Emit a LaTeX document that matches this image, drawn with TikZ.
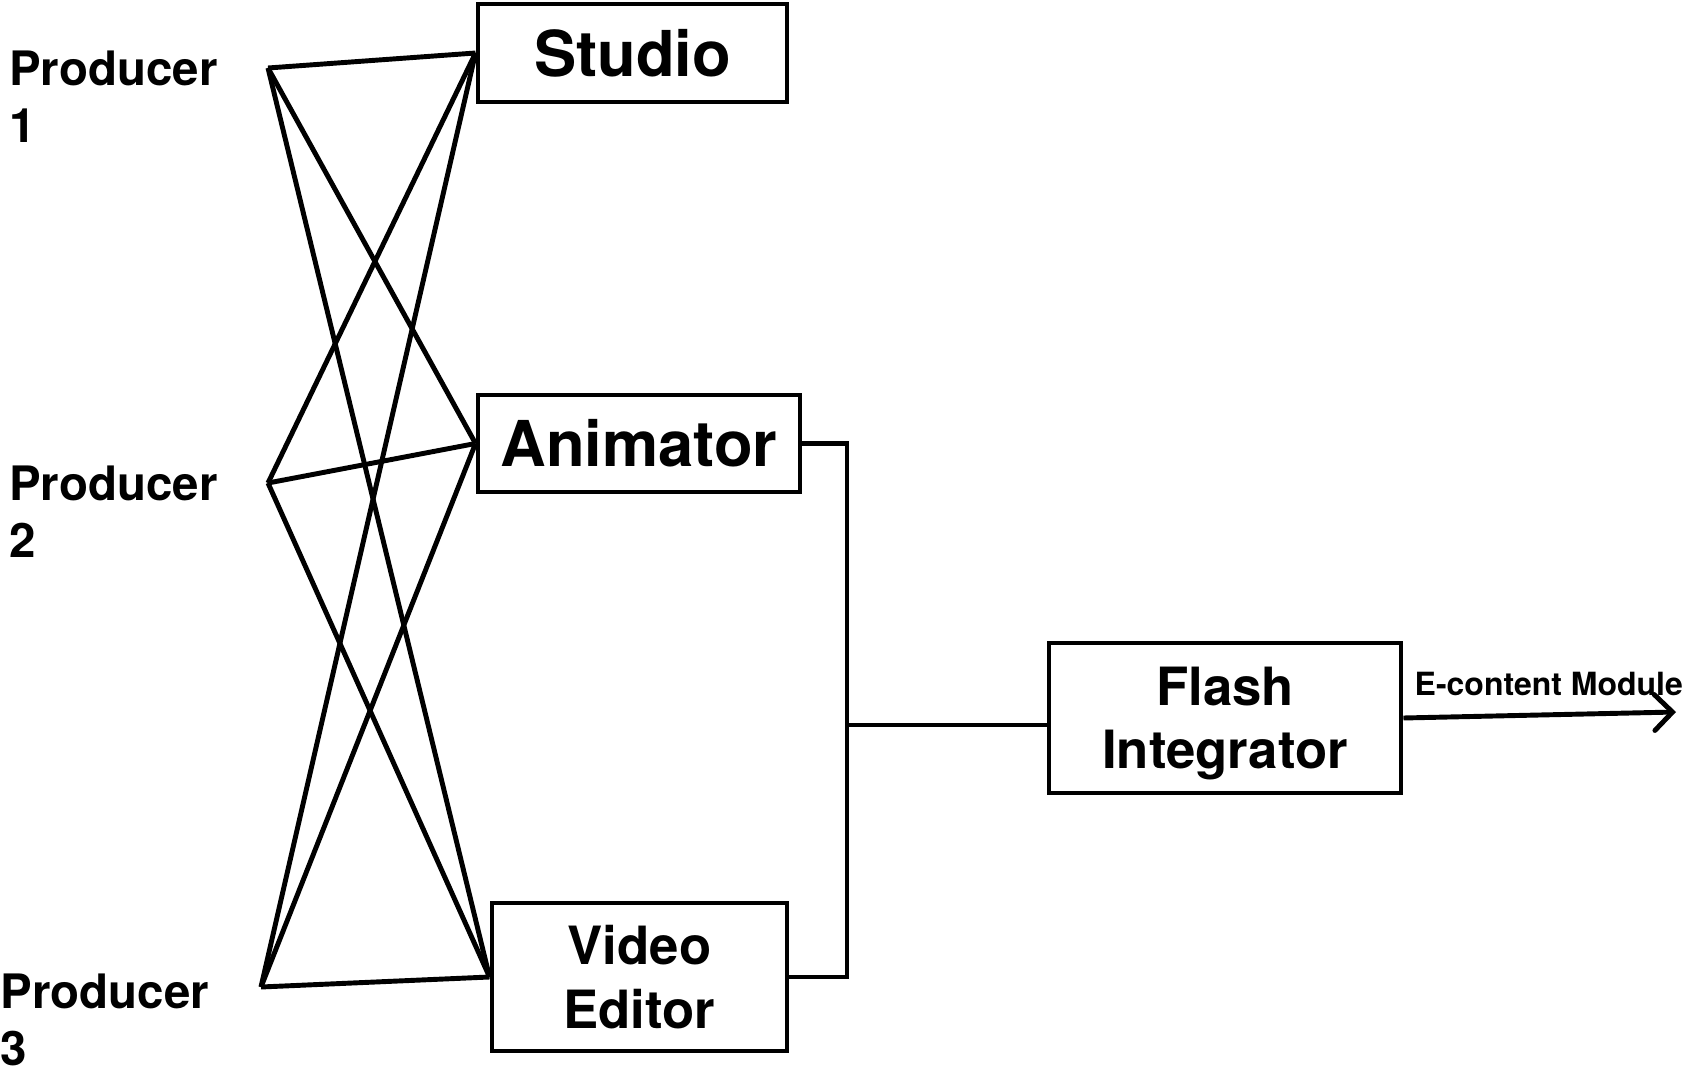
\documentclass[tikz,border=0pt]{standalone}
\usepackage{fontspec}
\setmainfont{TeX Gyre Heros}
\usetikzlibrary{arrows.meta, positioning}
\tikzstyle{role} = [draw, line width=1.4pt, rectangle, inner sep=0pt, align=center, font=\bfseries\fontsize{15}{18}\selectfont]
\tikzstyle{bigrole} = [role, font=\bfseries\fontsize{18}{21}\selectfont]
\tikzstyle{producer} = [anchor=north west, inner sep=0pt, align=left, font=\bfseries\fontsize{13.5}{16.2}\selectfont]
\tikzstyle{wire} = [line width=1.4pt]

\begin{document}
\begin{tikzpicture}[line join=miter]
	\useasboundingbox (0,0) rectangle (16.82,10.67);
	% producers on the left
	\node[producer] (prod1) at (0.086,10.17) {Producer\\1};
	\node[producer] (prod2) at (0.086,6.02) {Producer\\2};
	\node[producer] (prod3) at (0,0.94) {Producer\\3};
	\coordinate (p1) at (2.68,9.99);
	\coordinate (p2) at (2.68,5.84);
	\coordinate (p3) at (2.61,0.80);
	% the three roles
	\node[bigrole, minimum width=3.09cm, minimum height=0.98cm] (studio) at (6.325,10.14) {Studio};
	\node[bigrole, minimum width=3.22cm, minimum height=0.97cm] (animator) at (6.39,6.235) {Animator};
	\node[role, minimum width=2.95cm, minimum height=1.48cm] (video) at (6.395,0.90) {Video\\Editor};
	\node[role, minimum width=3.52cm, minimum height=1.50cm, text depth=0pt] (flash) at (12.25,3.49) {Flash\\Integrator};
	% every producer feeds every role
	\foreach \p in {p1,p2,p3}
		\foreach \b in {studio,animator,video}
			\draw[wire] (\p) -- (\b.west);
	% bus to the integrator
	\coordinate (bus) at (8.47,3.42);
	\draw[wire] (animator.east) -- (animator.east -| bus) -- (video.east -| bus) -- (video.east);
	\draw[wire] (bus) -- (bus -| flash.west);
	\coordinate (out) at (16.76,3.55);
	\draw[wire, -{Straight Barb[length=1.8mm, width=3.6mm, line cap=round]}] (flash.east) -- (out);
	\node[anchor=base west, inner sep=0pt, font=\bfseries\fontsize{9.1}{11}\selectfont] (module) at (14.14,3.72) {E-content Module};
\end{tikzpicture}
\end{document}
